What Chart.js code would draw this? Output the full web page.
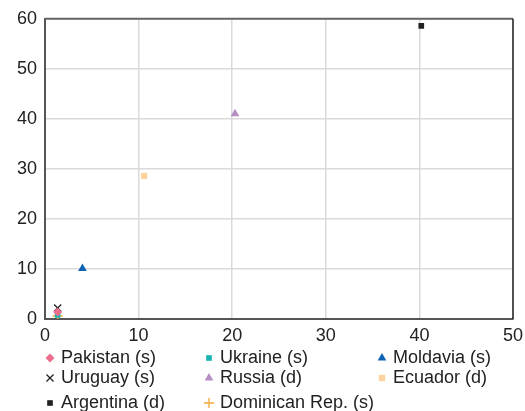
<!DOCTYPE html>
<html>
<head>
<meta charset="utf-8">
<script src="https://cdn.jsdelivr.net/npm/chart.js@4/dist/chart.umd.min.js"></script>
<style>
html,body{margin:0;padding:0;background:#fff;}
#wrap{width:525px;height:411px;position:relative;}
</style>
</head>
<body>
<div id="wrap"><canvas id="c" width="525" height="411"></canvas></div>
<script>
// ---- data ----
const seriesNames = ["Pakistan (s)", "Ukraine (s)", "Moldavia (s)", "Uruguay (s)", "Russia (d)", "Ecuador (d)", "Argentina (d)", "Dominican Rep. (s)"];
const xValues = [1.35, 1.35, 4.0, 1.35, 20.3, 10.6, 40.2, 1.35];
const yValues = [1.4, 0.8, 10.1, 2.2, 41.0, 28.6, 58.6, 0.6];
const xTicks = [0, 10, 20, 30, 40, 50];
const yTicks = [0, 10, 20, 30, 40, 50, 60];

// ---- styles ----
const colors = ["#ec6f8c", "#19b4b0", "#0d63b3", "#222222", "#b48ec4", "#fdd39e", "#222222", "#f5a93a"];
const styles = ["rectRot", "rect", "triangle", "crossRot", "triangle", "rect", "rect", "cross"];
const radii = [4.5, 4, 5, 5, 5, 4.5, 4, 5];

const FONT = "'Liberation Sans', Arial, Helvetica, sans-serif";

const datasets = seriesNames.map((n, i) => ({
  label: n,
  data: [{x: xValues[i], y: yValues[i]}],
  pointStyle: styles[i],
  pointRadius: radii[i],
  pointHoverRadius: radii[i],
  backgroundColor: colors[i],
  borderColor: colors[i],
  borderWidth: (styles[i] === 'cross' || styles[i] === 'crossRot') ? 1.3 : 0
}));

// legend layout (positions only)
const legendCols = [50, 209, 382];
const legendRows = [358, 378, 403];

const legendPlugin = {
  id: 'customLegend',
  afterDraw(chart) {
    const ctx = chart.ctx;
    ctx.save();
    ctx.font = "18px " + FONT;
    ctx.textBaseline = "middle";
    chart.data.datasets.forEach((ds, i) => {
      const col = i % 3, row = Math.floor(i / 3);
      const x = legendCols[col], y = legendRows[row];
      ctx.fillStyle = ds.backgroundColor;
      ctx.strokeStyle = ds.borderColor;
      ctx.lineWidth = ds.borderWidth || 1.2;
      Chart.helpers.drawPoint(ctx, {pointStyle: ds.pointStyle, radius: ds.pointRadius, rotation: 0, borderWidth: ds.borderWidth}, x, y);
      ctx.fillStyle = "#222";
      ctx.fillText(ds.label, x + 11, y);
    });
    // top & right frame
    const a = chart.chartArea;
    ctx.strokeStyle = "#666";
    ctx.lineWidth = 2;
    ctx.beginPath();
    ctx.moveTo(a.left, a.top);
    ctx.lineTo(a.right, a.top);
    ctx.stroke();
    ctx.strokeStyle = "#222";
    ctx.lineWidth = 1.5;
    ctx.beginPath();
    ctx.moveTo(a.right, a.top);
    ctx.lineTo(a.right, a.bottom);
    ctx.stroke();
    ctx.restore();
  }
};

new Chart(document.getElementById('c'), {
  type: 'scatter',
  data: { datasets },
  plugins: [legendPlugin],
  options: {
    responsive: false,
    animation: false,
    layout: { padding: { left: 0, right: 12, top: 15, bottom: 67 } },
    plugins: { legend: { display: false }, tooltip: { enabled: false } },
    scales: {
      x: {
        type: 'linear', min: 0, max: 50,
        afterBuildTicks(s) { s.ticks = xTicks.map(v => ({value: v})); },
        afterFit(s) { s.height = 25; s.paddingRight = 0; s.paddingLeft = 0; },
        ticks: { color: '#222', font: { size: 18, family: FONT }, padding: 6, maxRotation: 0 },
        grid: { color: '#dadada', lineWidth: 1.5, drawTicks: false },
        border: { color: '#555', width: 2 }
      },
      y: {
        type: 'linear', min: 0, max: 60,
        afterBuildTicks(s) { s.ticks = yTicks.map(v => ({value: v})); },
        afterFit(s) { s.width = 45; },
        ticks: { color: '#222', font: { size: 18, family: FONT }, padding: 8 },
        grid: { color: '#dadada', lineWidth: 1.5, drawTicks: false },
        border: { color: '#555', width: 2 }
      }
    }
  }
});
</script>
</body>
</html>
